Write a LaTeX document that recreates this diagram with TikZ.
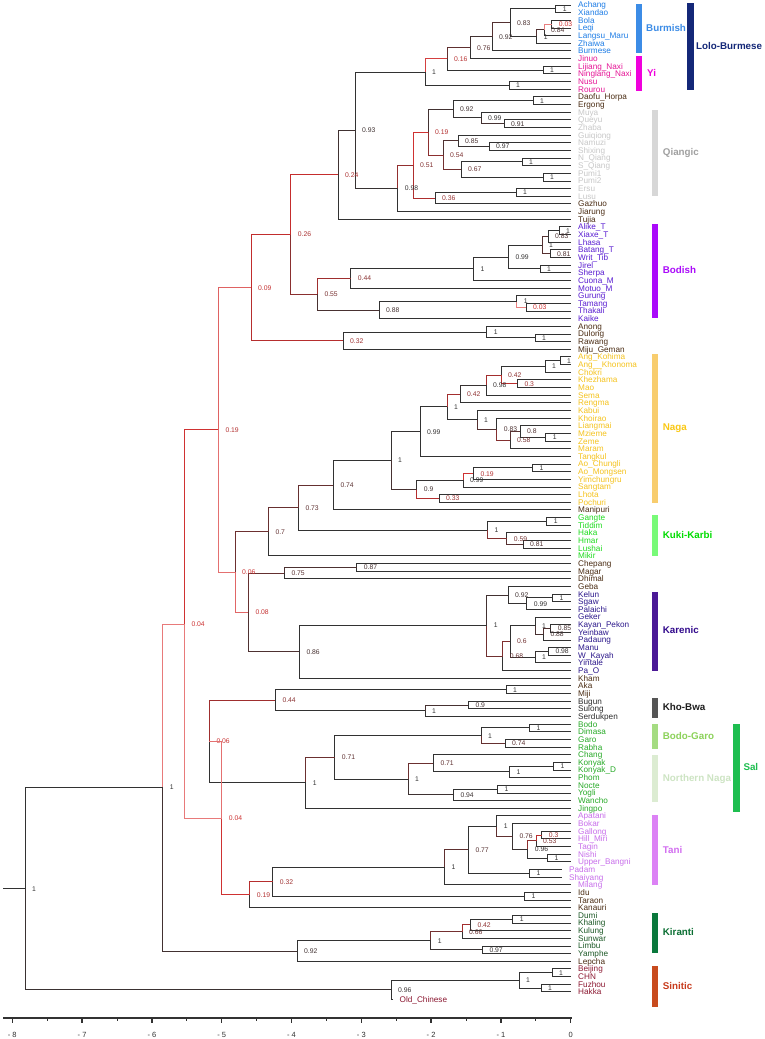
\documentclass[tikz,border=0pt]{standalone}
\usepackage{fontspec}
\setmainfont{Liberation Sans}
\definecolor{pinkc}{RGB}{238,140,140}
\definecolor{redc}{RGB}{205,45,45}
\definecolor{labred}{RGB}{210,50,50}
\definecolor{darkc}{RGB}{50,50,50}
\definecolor{cBur}{RGB}{30,125,230}
\definecolor{cYi}{RGB}{230,20,150}
\definecolor{cBr}{RGB}{75,45,20}
\definecolor{cQi}{RGB}{200,200,200}
\definecolor{cBo}{RGB}{90,30,210}
\definecolor{cNa}{RGB}{245,195,30}
\definecolor{cKu}{RGB}{30,220,30}
\definecolor{cKa}{RGB}{45,25,140}
\definecolor{cKB}{RGB}{45,45,45}
\definecolor{cSa}{RGB}{40,170,40}
\definecolor{cTa}{RGB}{200,110,235}
\definecolor{cKi}{RGB}{30,90,40}
\definecolor{cSi}{RGB}{140,25,50}
\definecolor{gBur}{RGB}{60,140,230}
\definecolor{gYi}{RGB}{240,0,220}
\definecolor{gLB}{RGB}{20,40,120}
\definecolor{gQi}{RGB}{215,215,215}
\definecolor{gQiT}{RGB}{160,160,160}
\definecolor{gBo}{RGB}{170,10,250}
\definecolor{gNa}{RGB}{248,205,110}
\definecolor{gNaT}{RGB}{250,200,20}
\definecolor{gKu}{RGB}{120,250,120}
\definecolor{gKuT}{RGB}{0,220,0}
\definecolor{gKa}{RGB}{75,25,150}
\definecolor{gKaT}{RGB}{50,10,140}
\definecolor{gKB}{RGB}{85,85,85}
\definecolor{gKBT}{RGB}{30,30,30}
\definecolor{gBG}{RGB}{165,220,130}
\definecolor{gBGT}{RGB}{140,210,90}
\definecolor{gNN}{RGB}{220,236,210}
\definecolor{gNNT}{RGB}{205,228,195}
\definecolor{gSal}{RGB}{30,190,80}
\definecolor{gTa}{RGB}{220,130,245}
\definecolor{gTaT}{RGB}{210,110,240}
\definecolor{gKi}{RGB}{10,120,60}
\definecolor{gKiT}{RGB}{10,110,50}
\definecolor{gSi}{RGB}{200,75,30}
\definecolor{gSiT}{RGB}{200,60,30}

\newcommand\setpc[1]{%
  \pgfmathsetmacro\pp{#1}%
  \ifdim\pp pt<0.2pt
    \pgfmathtruncatemacro\rp{100*\pp/0.2}%
    \colorlet{bc}{redc!\rp!pinkc}%
  \else
    \pgfmathtruncatemacro\rp{100*(\pp-0.2)/0.8}%
    \colorlet{bc}{darkc!\rp!redc}%
  \fi}
\newcommand\setlc[1]{%
  \pgfmathtruncatemacro\rp{100*#1}%
  \colorlet{lc}{darkc!\rp!labred}}

% leaf: [x]{name}{index}{colour}{text}
\newcommand\lf[5][571]{%
  \pgfmathsetmacro\yy{5+7.65*(#3-1)}%
  \expandafter\xdef\csname yv-#2\endcsname{\yy}%
  \expandafter\xdef\csname pv-#2\endcsname{1}%
  \coordinate (#2) at (#1,\yy);
  \node[leaflab,text=#4] (#2-t) at (#1+7,\yy) {#5};
}
% internal node: {name}{x}{p}{label}{child1}{child2}
\newcommand\nd[6]{%
  \edef\ya{\csname yv-#5\endcsname}%
  \edef\yb{\csname yv-#6\endcsname}%
  \pgfmathsetmacro\yy{(\ya+\yb)/2}%
  \expandafter\xdef\csname yv-#1\endcsname{\yy}%
  \expandafter\xdef\csname pv-#1\endcsname{#3}%
  \coordinate (#1) at (#2,\yy);
  \edef\pa{\csname pv-#5\endcsname}\setpc{\pa}%
  \draw[br,bc] (#1) |- (#5);
  \edef\pa{\csname pv-#6\endcsname}\setpc{\pa}%
  \draw[br,bc] (#1) |- (#6);
  \setlc{#3}%
  \node[nlab,text=lc] (#1-l) at (#2+7,\yy) {#4};
}

\tikzset{
 br/.style={line width=0.9pt, line join=miter},
 leaflab/.style={anchor=west, inner sep=0pt, font=\fontsize{8.2}{9}\selectfont, text height=6.2pt, text depth=0.3pt},
 nlab/.style={anchor=west, inner sep=0pt, font=\fontsize{6.8}{8}\selectfont, text height=5pt, text depth=0.1pt},
 glab/.style={anchor=west, inner sep=0pt, font=\fontsize{9.8}{11}\selectfont\bfseries, text height=7.2pt, text depth=0pt},
 tlab/.style={inner sep=0pt, font=\fontsize{7.5}{9}\selectfont, text=darkc},
 axisl/.style={line width=1.3pt, draw=darkc},
}

\begin{document}
\begin{tikzpicture}[x=1pt,y=-1pt]
\fill[white] (0,0) rectangle (764,1039);
\useasboundingbox (0,0) rectangle (764,1039);

% ---------- leaves ----------
\lf{l1}{1}{cBur}{Achang}
\lf{l2}{2}{cBur}{Xiandao}
\lf{l3}{3}{cBur}{Bola}
\lf{l4}{4}{cBur}{Leqi}
\lf{l5}{5}{cBur}{Langsu\_Maru}
\lf{l6}{6}{cBur}{Zhaiwa}
\lf{l7}{7}{cBur}{Burmese}
\lf{l8}{8}{cYi}{Jinuo}
\lf{l9}{9}{cYi}{Lijiang\_Naxi}
\lf{l10}{10}{cYi}{Ninglang\_Naxi}
\lf{l11}{11}{cYi}{Nusu}
\lf{l12}{12}{cYi}{Rourou}
\lf{l13}{13}{cBr}{Daofu\_Horpa}
\lf{l14}{14}{cBr}{Ergong}
\lf{l15}{15}{cQi}{Muya}
\lf{l16}{16}{cQi}{Queyu}
\lf{l17}{17}{cQi}{Zhaba}
\lf{l18}{18}{cQi}{Guiqiong}
\lf{l19}{19}{cQi}{Namuzi}
\lf{l20}{20}{cQi}{Shixing}
\lf{l21}{21}{cQi}{N\_Qiang}
\lf{l22}{22}{cQi}{S\_Qiang}
\lf{l23}{23}{cQi}{Pumi1}
\lf{l24}{24}{cQi}{Pumi2}
\lf{l25}{25}{cQi}{Ersu}
\lf{l26}{26}{cQi}{Lusu}
\lf{l27}{27}{cBr}{Gazhuo}
\lf{l28}{28}{cBr}{Jiarung}
\lf{l29}{29}{cBr}{Tujia}
\lf{l30}{30}{cBo}{Alike\_T}
\lf{l31}{31}{cBo}{Xiaxe\_T}
\lf{l32}{32}{cBo}{Lhasa}
\lf{l33}{33}{cBo}{Batang\_T}
\lf{l34}{34}{cBo}{Writ\_Tib}
\lf{l35}{35}{cBo}{Jirel}
\lf{l36}{36}{cBo}{Sherpa}
\lf{l37}{37}{cBo}{Cuona\_M}
\lf{l38}{38}{cBo}{Motuo\_M}
\lf{l39}{39}{cBo}{Gurung}
\lf{l40}{40}{cBo}{Tamang}
\lf{l41}{41}{cBo}{Thakali}
\lf{l42}{42}{cBo}{Kaike}
\lf{l43}{43}{cBr}{Anong}
\lf{l44}{44}{cBr}{Dulong}
\lf{l45}{45}{cBr}{Rawang}
\lf{l46}{46}{cBr}{Miju\_Geman}
\lf{l47}{47}{cNa}{Ang\_Kohima}
\lf{l48}{48}{cNa}{Ang\_\_Khonoma}
\lf{l49}{49}{cNa}{Chokri}
\lf{l50}{50}{cNa}{Khezhama}
\lf{l51}{51}{cNa}{Mao}
\lf{l52}{52}{cNa}{Sema}
\lf{l53}{53}{cNa}{Rengma}
\lf{l54}{54}{cNa}{Kabui}
\lf{l55}{55}{cNa}{Khoirao}
\lf{l56}{56}{cNa}{Liangmai}
\lf{l57}{57}{cNa}{Mzieme}
\lf{l58}{58}{cNa}{Zeme}
\lf{l59}{59}{cNa}{Maram}
\lf{l60}{60}{cNa}{Tangkul}
\lf{l61}{61}{cNa}{Ao\_Chungli}
\lf{l62}{62}{cNa}{Ao\_Mongsen}
\lf{l63}{63}{cNa}{Yimchungru}
\lf{l64}{64}{cNa}{Sangtam}
\lf{l65}{65}{cNa}{Lhota}
\lf{l66}{66}{cNa}{Pochuri}
\lf{l67}{67}{cBr}{Manipuri}
\lf{l68}{68}{cKu}{Gangte}
\lf{l69}{69}{cKu}{Tiddim}
\lf{l70}{70}{cKu}{Haka}
\lf{l71}{71}{cKu}{Hmar}
\lf{l72}{72}{cKu}{Lushai}
\lf{l73}{73}{cKu}{Mikir}
\lf{l74}{74}{cBr}{Chepang}
\lf{l75}{75}{cBr}{Magar}
\lf{l76}{76}{cBr}{Dhimal}
\lf{l77}{77}{cBr}{Geba}
\lf{l78}{78}{cKa}{Kelun}
\lf{l79}{79}{cKa}{Sgaw}
\lf{l80}{80}{cKa}{Palaichi}
\lf{l81}{81}{cKa}{Geker}
\lf{l82}{82}{cKa}{Kayan\_Pekon}
\lf{l83}{83}{cKa}{Yeinbaw}
\lf{l84}{84}{cKa}{Padaung}
\lf{l85}{85}{cKa}{Manu}
\lf{l86}{86}{cKa}{W\_Kayah}
\lf{l87}{87}{cKa}{Yintale}
\lf{l88}{88}{cKa}{Pa\_O}
\lf{l89}{89}{cBr}{Kham}
\lf{l90}{90}{cBr}{Aka}
\lf{l91}{91}{cBr}{Miji}
\lf{l92}{92}{cKB}{Bugun}
\lf{l93}{93}{cKB}{Sulong}
\lf{l94}{94}{cKB}{Serdukpen}
\lf{l95}{95}{cSa}{Bodo}
\lf{l96}{96}{cSa}{Dimasa}
\lf{l97}{97}{cSa}{Garo}
\lf{l98}{98}{cSa}{Rabha}
\lf{l99}{99}{cSa}{Chang}
\lf{l100}{100}{cSa}{Konyak}
\lf{l101}{101}{cSa}{Konyak\_D}
\lf{l102}{102}{cSa}{Phom}
\lf{l103}{103}{cSa}{Nocte}
\lf{l104}{104}{cSa}{Yogli}
\lf{l105}{105}{cSa}{Wancho}
\lf{l106}{106}{cSa}{Jingpo}
\lf{l107}{107}{cTa}{Apatani}
\lf{l108}{108}{cTa}{Bokar}
\lf{l109}{109}{cTa}{Gallong}
\lf{l110}{110}{cTa}{Hill\_Miri}
\lf{l111}{111}{cTa}{Tagin}
\lf{l112}{112}{cTa}{Nishi}
\lf{l113}{113}{cTa}{Upper\_Bangni}
\lf[562]{l114}{114}{cTa}{Padam}
\lf[562]{l115}{115}{cTa}{Shaiyang}
\lf{l116}{116}{cTa}{Milang}
\lf{l117}{117}{cBr}{Idu}
\lf{l118}{118}{cBr}{Taraon}
\lf{l119}{119}{cBr}{Kanauri}
\lf{l120}{120}{cKi}{Dumi}
\lf{l121}{121}{cKi}{Khaling}
\lf{l122}{122}{cKi}{Kulung}
\lf{l123}{123}{cKi}{Sunwar}
\lf{l124}{124}{cKi}{Limbu}
\lf{l125}{125}{cKi}{Yamphe}
\lf{l126}{126}{cBr}{Lepcha}
\lf{l127}{127}{cSi}{Beijing}
\lf{l128}{128}{cSi}{CHN}
\lf{l129}{129}{cSi}{Fuzhou}
\lf{l130}{130}{cSi}{Hakka}
\lf[392.5]{l131}{131}{cSi}{Old\_Chinese}

% ---------- Lolo-Burmese ----------
\nd{nAX}{555.7}{1}{1}{l1}{l2}
\nd{nBL}{551.7}{0.03}{0.03}{l3}{l4}
\nd{nP}{544}{0.84}{0.84}{nBL}{l5}
\nd{nQ}{536.7}{1}{1}{nP}{l6}
\nd{nD}{510}{0.83}{0.83}{nAX}{nQ}
\nd{nE}{492}{0.92}{0.92}{nD}{l7}
\nd{nF}{470}{0.76}{0.76}{nE}{l8}
\nd{nNX}{543}{1}{1}{l9}{l10}
\nd{nG}{447}{0.16}{0.16}{nF}{nNX}
\nd{nNR}{509}{1}{1}{l11}{l12}
\nd{nH}{425}{1}{1}{nG}{nNR}
% ---------- Qiangic ----------
\nd{nDE}{533}{1}{1}{l13}{l14}
\nd{nQZ}{504}{0.91}{0.91}{l16}{l17}
\nd{nMQZ}{481}{0.99}{0.99}{l15}{nQZ}
\nd{nA92}{453}{0.92}{0.92}{nDE}{nMQZ}
\nd{nNS}{489}{0.97}{0.97}{l19}{l20}
\nd{nGNS}{458}{0.85}{0.85}{l18}{nNS}
\nd{nNSQ}{522}{1}{1}{l21}{l22}
\nd{nPumi}{543}{1}{1}{l23}{l24}
\nd{nA67}{461}{0.67}{0.67}{nNSQ}{nPumi}
\nd{nA54}{443}{0.54}{0.54}{nGNS}{nA67}
\nd{nM}{428}{0.19}{0.19}{nA92}{nA54}
\nd{nEL}{516}{1}{1}{l25}{l26}
\nd{nN}{435}{0.36}{0.36}{nEL}{l27}
\nd{nL}{413}{0.51}{0.51}{nM}{nN}
\nd{nK}{397.7}{0.98}{0.98}{nL}{l28}
\nd{nI}{355}{0.93}{0.93}{nH}{nK}
\nd{nJ}{338}{0.24}{0.24}{nI}{l29}
% ---------- Bodish ----------
\nd{nAXT}{559}{1}{1}{l30}{l31}
\nd{nU}{548}{0.83}{0.83}{nAXT}{l32}
\nd{nBW}{550}{0.81}{0.81}{l33}{l34}
\nd{nT}{542}{1}{1}{nU}{nBW}
\nd{nJS}{540}{1}{1}{l35}{l36}
\nd{nS}{508.3}{0.99}{0.99}{nT}{nJS}
\nd{nR}{473.3}{1}{1}{nS}{l37}
\nd{nB44}{350.7}{0.44}{0.44}{nR}{l38}
\nd{nTT}{526}{0.03}{0.03}{l40}{l41}
\nd{nGTT}{516.7}{1}{1}{l39}{nTT}
\nd{nB88}{379}{0.88}{0.88}{nGTT}{l42}
\nd{nB55}{317.3}{0.55}{0.55}{nB44}{nB88}
\nd{nO}{290.7}{0.26}{0.26}{nJ}{nB55}
% ---------- Anong etc ----------
\nd{nDR}{535}{1}{1}{l44}{l45}
\nd{nADR}{486.7}{1}{1}{l43}{nDR}
\nd{nC32}{343}{0.32}{0.32}{nADR}{l46}
\nd{nQ9}{251}{0.09}{0.09}{nO}{nC32}
% ---------- Naga ----------
\nd{nAng}{560}{1}{1}{l47}{l48}
\nd{nAngC}{545}{1}{1}{nAng}{l49}
\nd{nKM}{517.3}{0.3}{0.3}{l50}{l51}
\nd{nN42a}{501}{0.42}{0.42}{nAngC}{nKM}
\nd{nN98}{486}{0.98}{0.98}{nN42a}{l52}
\nd{nN42b}{460}{0.42}{0.42}{nN98}{l53}
\nd{nMZ}{545.7}{1}{1}{l57}{l58}
\nd{nN8}{520}{0.8}{0.8}{l56}{nMZ}
\nd{nN58}{510}{0.58}{0.58}{nN8}{l59}
\nd{nN83}{496.7}{0.83}{0.83}{l55}{nN58}
\nd{nKab}{477}{1}{1}{l54}{nN83}
\nd{nN1}{447}{1}{1}{nN42b}{nKab}
\nd{nN99a}{420}{0.99}{0.99}{nN1}{l60}
\nd{nAo}{532.3}{1}{1}{l61}{l62}
\nd{nN19}{473.3}{0.19}{0.19}{nAo}{l63}
\nd{nN99b}{463}{0.99}{0.99}{nN19}{l64}
\nd{nN33}{439}{0.33}{0.33}{l65}{l66}
\nd{nN9}{416.7}{0.9}{0.9}{nN99b}{nN33}
\nd{nNaga}{391}{1}{1}{nN99a}{nN9}
\nd{nN74}{333.3}{0.74}{0.74}{nNaga}{l67}
% ---------- Kuki-Karbi ----------
\nd{nGT}{546.7}{1}{1}{l68}{l69}
\nd{nHL}{523}{0.81}{0.81}{l71}{l72}
\nd{nHHL}{506.7}{0.59}{0.59}{l70}{nHL}
\nd{nKC}{487.3}{1}{1}{nGT}{nHHL}
\nd{nK73}{298.3}{0.73}{0.73}{nN74}{nKC}
\nd{nK7}{268.3}{0.7}{0.7}{nK73}{l73}
% ---------- Chepang etc ----------
\nd{nC87}{356.7}{0.87}{0.87}{l74}{l75}
\nd{nC75}{284.3}{0.75}{0.75}{nC87}{l76}
% ---------- Karenic ----------
\nd{nKS}{552.3}{1}{1}{l78}{l79}
\nd{nK99}{526.7}{0.99}{0.99}{nKS}{l80}
\nd{nK92}{508}{0.92}{0.92}{l77}{nK99}
\nd{nKY}{550.7}{0.85}{0.85}{l82}{l83}
\nd{nK88}{543.3}{0.88}{0.88}{nKY}{l84}
\nd{nGek}{535}{1}{1}{l81}{nK88}
\nd{nMW}{548.3}{0.98}{0.98}{l85}{l86}
\nd{nMWY}{535}{1}{1}{nMW}{l87}
\nd{nK6}{510}{0.6}{0.6}{nGek}{nMWY}
\nd{nK68}{502.7}{0.68}{0.68}{nK6}{l88}
\nd{nKar}{486.7}{1}{1}{nK92}{nK68}
\nd{nK86}{299.3}{0.86}{0.86}{nKar}{l89}
\nd{nK08}{248.3}{0.08}{0.08}{nC75}{nK86}
\nd{nS2}{235}{0.06}{0.06}{nK7}{nK08}
\nd{nR2}{218.3}{0.19}{0.19}{nQ9}{nS2}
% ---------- Kho-Bwa ----------
\nd{nAM}{506}{1}{1}{l90}{l91}
\nd{nBS}{468.3}{0.9}{0.9}{l92}{l93}
\nd{nKB}{425}{1}{1}{nBS}{l94}
\nd{nW44}{275.3}{0.44}{0.44}{nAM}{nKB}
% ---------- Sal ----------
\nd{nBD}{529.3}{1}{1}{l95}{l96}
\nd{nGR}{505}{0.74}{0.74}{l97}{l98}
\nd{nBG}{481}{1}{1}{nBD}{nGR}
\nd{nKK}{553.3}{1}{1}{l100}{l101}
\nd{nKKP}{509.3}{1}{1}{nKK}{l102}
\nd{nS71a}{433.3}{0.71}{0.71}{l99}{nKKP}
\nd{nNY}{497.3}{1}{1}{l103}{l104}
\nd{nS94}{453.3}{0.94}{0.94}{nNY}{l105}
\nd{nNN}{408}{1}{1}{nS71a}{nS94}
\nd{nS71b}{334.7}{0.71}{0.71}{nBG}{nNN}
\nd{nSal}{305.7}{1}{1}{nS71b}{l106}
\nd{nW06}{209.3}{0.06}{0.06}{nW44}{nSal}
% ---------- Tani ----------
\nd{nGH}{541.7}{0.3}{0.3}{l109}{l110}
\nd{nT53}{536}{0.53}{0.53}{nGH}{l111}
\nd{nNU}{547.3}{1}{1}{l112}{l113}
\nd{nT96}{527.7}{0.96}{0.96}{nT53}{nNU}
\nd{nT76}{512.3}{0.76}{0.76}{l108}{nT96}
\nd{nAp}{496.7}{1}{1}{l107}{nT76}
\nd{nPS}{529.3}{1}{1}{l114}{l115}
\nd{nT77}{468.3}{0.77}{0.77}{nAp}{nPS}
\nd{nTani}{444.3}{1}{1}{nT77}{l116}
\nd{nIT}{524.3}{1}{1}{l117}{l118}
\nd{nT32}{272.7}{0.32}{0.32}{nTani}{nIT}
\nd{nT19}{249.7}{0.19}{0.19}{nT32}{l119}
\nd{nZ1}{221.7}{0.04}{0.04}{nW06}{nT19}
\nd{nY1}{184.3}{0.04}{0.04}{nR2}{nZ1}
% ---------- Kiranti ----------
\nd{nDK}{512.7}{1}{1}{l120}{l121}
\nd{nR42}{470.3}{0.42}{0.42}{nDK}{l122}
\nd{nR66}{462}{0.66}{0.66}{nR42}{l123}
\nd{nLY}{482.3}{0.97}{0.97}{l124}{l125}
\nd{nKir}{430.7}{1}{1}{nR66}{nLY}
\nd{nR92}{297}{0.92}{0.92}{nKir}{l126}
\nd{nTop}{162.7}{1}{1}{nY1}{nR92}
% ---------- Sinitic ----------
\nd{nBC}{552}{1}{1}{l127}{l128}
\nd{nFH}{541}{1}{1}{l129}{l130}
\nd{nSin}{519}{1}{1}{nBC}{nFH}
\nd{nOC}{391}{0.96}{0.96}{nSin}{l131}
\nd{nRoot}{25}{1}{1}{nTop}{nOC}
\path (nRoot) ++(-22,0) coordinate (rootstub);
\draw[br,darkc] (rootstub) -- (nRoot);

% ---------- group bars ----------
\fill[gBur] (635.7,4) rectangle (642.3,52.7);
\node[glab,text=gBur] (gBurmish) at (646,27.5) {Burmish};
\fill[gYi] (635.7,56) rectangle (642.3,91);
\node[glab,text=gYi] (gYiT) at (647,72.5) {Yi};
\fill[gLB] (687.3,3.3) rectangle (694,90);
\node[glab,text=gLB] (gLBT) at (696,45.5) {Lolo-Burmese};
\fill[gQi] (651.7,110) rectangle (658.3,196);
\node[glab,text=gQiT] (gQiang) at (662.7,152) {Qiangic};
\fill[gBo] (651.7,224.3) rectangle (658.3,318.3);
\node[glab,text=gBo] (gBod) at (662.7,269.5) {Bodish};
\fill[gNa] (651.7,354.3) rectangle (658.3,502.7);
\node[glab,text=gNaT] (gNaga) at (662.7,427) {Naga};
\fill[gKu] (651.7,515) rectangle (658.3,556);
\node[glab,text=gKuT] (gKuki) at (662.7,534.5) {Kuki-Karbi};
\fill[gKa] (651.7,592.3) rectangle (658.3,671);
\node[glab,text=gKaT] (gKar) at (662.7,629.5) {Karenic};
\fill[gKB] (651.7,698.3) rectangle (658.3,718.3);
\node[glab,text=gKBT] (gKho) at (662.7,707) {Kho-Bwa};
\fill[gBG] (651.7,724) rectangle (658.3,748.7);
\node[glab,text=gBGT] (gBodo) at (662.7,735.5) {Bodo-Garo};
\fill[gNN] (651.7,755) rectangle (658.3,801.7);
\node[glab,text=gNNT] (gNNaga) at (662.7,778) {Northern Naga};
\fill[gSal] (733.3,724) rectangle (740,811.7);
\node[glab,text=gSal] (gSalT) at (743.3,767) {Sal};
\fill[gTa] (651.7,815) rectangle (658.3,885);
\node[glab,text=gTaT] (gTani) at (662.7,849.5) {Tani};
\fill[gKi] (651.7,912.7) rectangle (658.3,953.3);
\node[glab,text=gKiT] (gKir) at (662.7,932) {Kiranti};
\fill[gSi] (651.7,966) rectangle (658.3,1006.7);
\node[glab,text=gSiT] (gSin) at (662.7,985.5) {Sinitic};

% ---------- axis ----------
\draw[axisl] (3,1018) -- (572,1018);
\foreach \t/\s in {-8/{- 8},-7/{- 7},-6/{- 6},-5/{- 5},-4/{- 4},-3/{- 3},-2/{- 2},-1/{- 1},0/{0}}{
  \draw[axisl] ({570.7+69.8*\t},1018) -- ++(0,4.5);
  \node[tlab] (tk\t) at ({570.7+69.8*\t},1035) {\s};
}
\foreach \t in {-7.5,-6.5,-5.5,-4.5,-3.5,-2.5,-1.5,-0.5}{
  \draw[line width=1pt,darkc] ({570.7+69.8*\t},1018) -- ++(0,3);
}
\end{tikzpicture}
\end{document}
